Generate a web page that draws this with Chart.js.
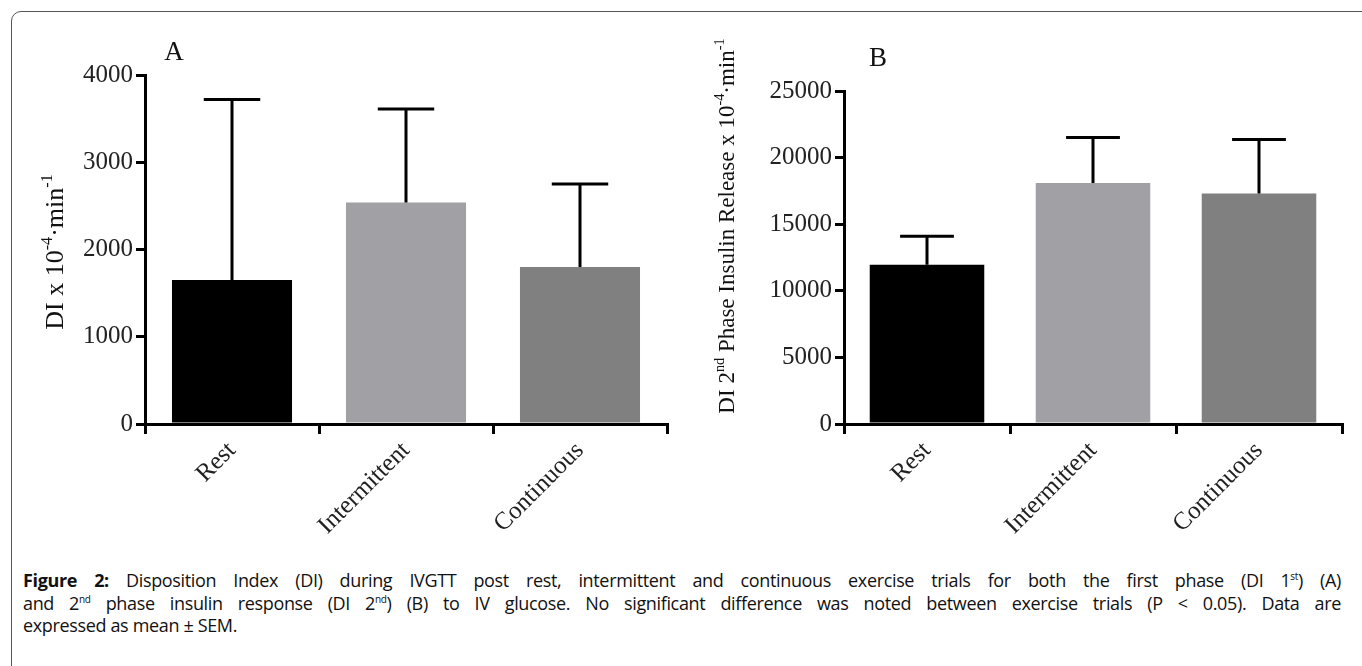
<!DOCTYPE html>
<html>
<head>
<meta charset="utf-8">
<script src="https://cdn.jsdelivr.net/npm/chart.js@4"></script>
<style>
  body { margin: 0; width: 1362px; height: 666px; overflow: hidden; background: #fff; position: relative; }
  #frame { position: absolute; left: 11px; top: 11px; width: 1400px; height: 700px; border: 1px solid #555; border-radius: 10px; }
  #wrapA { position: absolute; left: 0; top: 0; width: 690px; height: 560px; }
  #wrapB { position: absolute; left: 690px; top: 0; width: 672px; height: 560px; }
  #caption { position: absolute; left: 23px; top: 569px; width: 1318px; font-family: "Open Sans", sans-serif; font-size: 18px; letter-spacing: -0.35px; line-height: 22.5px; color: #111; }
  #caption .j { text-align: justify; text-align-last: justify; white-space: nowrap; }
  #caption sup { font-size: 10px; line-height: 0; }
</style>
</head>
<body>
<div id="frame"></div>
<div id="wrapA"><canvas id="chartA" width="690" height="560"></canvas></div>
<div id="wrapB"><canvas id="chartB" width="672" height="560"></canvas></div>
<div id="caption">
  <div class="j"><b>Figure 2:</b> Disposition Index (DI) during IVGTT post rest, intermittent and continuous exercise trials for both the first phase (DI 1<sup>st</sup>) (A)</div>
  <div class="j">and 2<sup>nd</sup> phase insulin response (DI 2<sup>nd</sup>) (B) to IV glucose. No significant difference was noted between exercise trials (P &lt; 0.05). Data are</div>
  <div>expressed as mean ± SEM.</div>
</div>
<script>
// trials
var trials = ['Rest', 'Intermittent', 'Continuous'];
var barColors = ['#000000', '#a1a1a5', '#808080'];

// panel A: first phase DI (mean and mean + SEM)
var meanA = [1650, 2540, 1800];
var upperA = [3720, 3610, 2750];
var ticksA = [0, 1000, 2000, 3000, 4000];

// panel B: 2nd phase DI
var meanB = [11950, 18100, 17300];
var upperB = [14100, 21500, 21350];
var ticksB = [0, 5000, 10000, 15000, 20000, 25000];

var serif = '"Liberation Serif", "Times New Roman", serif';

// draws the upper SEM whisker for each bar
var errorBars = {
    id: 'errorBars',
    afterDatasetsDraw: function(chart, args, opts) {
        var ctx = chart.ctx;
        var meta = chart.getDatasetMeta(0);
        var y = chart.scales.y;
        ctx.save();
        ctx.strokeStyle = '#000';
        ctx.lineWidth = 3;
        meta.data.forEach(function(bar, i) {
            var top = y.getPixelForValue(opts.upper[i]);
            var half = bar.width * 0.235;
            ctx.beginPath();
            ctx.moveTo(bar.x, bar.y);
            ctx.lineTo(bar.x, top);
            ctx.moveTo(bar.x - half, top);
            ctx.lineTo(bar.x + half, top);
            ctx.stroke();
        });
        ctx.restore();
    }
};

// rotated y title with superscripts, plus the panel letter
function drawRich(ctx, parts, size) {
    var w = 0;
    parts.forEach(function(p) {
        ctx.font = (p.sup ? size * 0.62 : size) + 'px ' + serif;
        p.w = ctx.measureText(p.t).width;
        w += p.w;
    });
    var x = -w / 2;
    parts.forEach(function(p) {
        ctx.font = (p.sup ? size * 0.62 : size) + 'px ' + serif;
        ctx.fillText(p.t, x, p.sup ? -size * 0.42 : 0);
        x += p.w;
    });
}

var labels = {
    id: 'labels',
    afterDraw: function(chart, args, opts) {
        var ctx = chart.ctx;
        var area = chart.chartArea;
        ctx.save();
        ctx.fillStyle = '#111';
        ctx.textBaseline = 'alphabetic';
        ctx.font = '27px ' + serif;
        ctx.textAlign = 'center';
        ctx.fillText(opts.letter, area.left + opts.letterDx, opts.letterY);
        ctx.textAlign = 'left';
        ctx.translate(area.left - opts.titleDx, opts.titleY);
        ctx.rotate(-Math.PI / 2);
        drawRich(ctx, opts.title, opts.titleSize);
        ctx.restore();
    }
};

function makeChart(id, mean, upper, ticks, yMax, yWidth, padTop, padRight, letter) {
    return new Chart(document.getElementById(id), {
        type: 'bar',
        data: {
            labels: trials,
            datasets: [{
                data: mean,
                backgroundColor: barColors,
                borderWidth: 0,
                categoryPercentage: 1,
                barPercentage: 0.69
            }]
        },
        options: {
            responsive: false,
            animation: false,
            layout: { padding: { top: padTop, right: padRight, left: 0, bottom: 0 } },
            plugins: {
                legend: { display: false },
                tooltip: { enabled: false },
                errorBars: { upper: upper },
                labels: letter
            },
            scales: {
                x: {
                    grid: { display: true, drawOnChartArea: false, drawTicks: true, tickLength: 10, color: '#000', lineWidth: 3 },
                    border: { display: true, color: '#000', width: 3 },
                    ticks: { color: '#222', font: { family: serif, size: 25 }, minRotation: 45, maxRotation: 45, autoSkip: false, padding: 2 },
                    afterFit: function(s) { s.height = 136; }
                },
                y: {
                    min: 0,
                    max: yMax,
                    afterBuildTicks: function(s) { s.ticks = ticks.map(function(v) { return { value: v }; }); },
                    grid: { display: true, drawOnChartArea: false, drawTicks: true, tickLength: 9, color: '#000', lineWidth: 3 },
                    border: { display: true, color: '#000', width: 3 },
                    ticks: { color: '#222', font: { family: serif, size: 25 }, padding: 3,
                             callback: function(v) { return String(v); } },
                    afterFit: function(s) { s.width = yWidth; }
                }
            }
        },
        plugins: [errorBars, labels]
    });
}

var chartA = makeChart('chartA', meanA, upperA, ticksA, 4000, 145, 75, 23,
    { letter: 'A', letterDx: 29, letterY: 60, titleDx: 82, titleY: 252, titleSize: 26,
      title: [{ t: 'DI x 10' }, { t: '-4', sup: true }, { t: '·min' }, { t: '-1', sup: true }] });

var chartB = makeChart('chartB', meanB, upperB, ticksB, 25000, 154, 91, 20,
    { letter: 'B', letterDx: 34, letterY: 66, titleDx: 110, titleY: 226, titleSize: 23,
      title: [{ t: 'DI 2' }, { t: 'nd', sup: true }, { t: ' Phase Insulin Release x 10' }, { t: '-4', sup: true }, { t: '·min' }, { t: '-1', sup: true }] });
</script>
</body>
</html>
